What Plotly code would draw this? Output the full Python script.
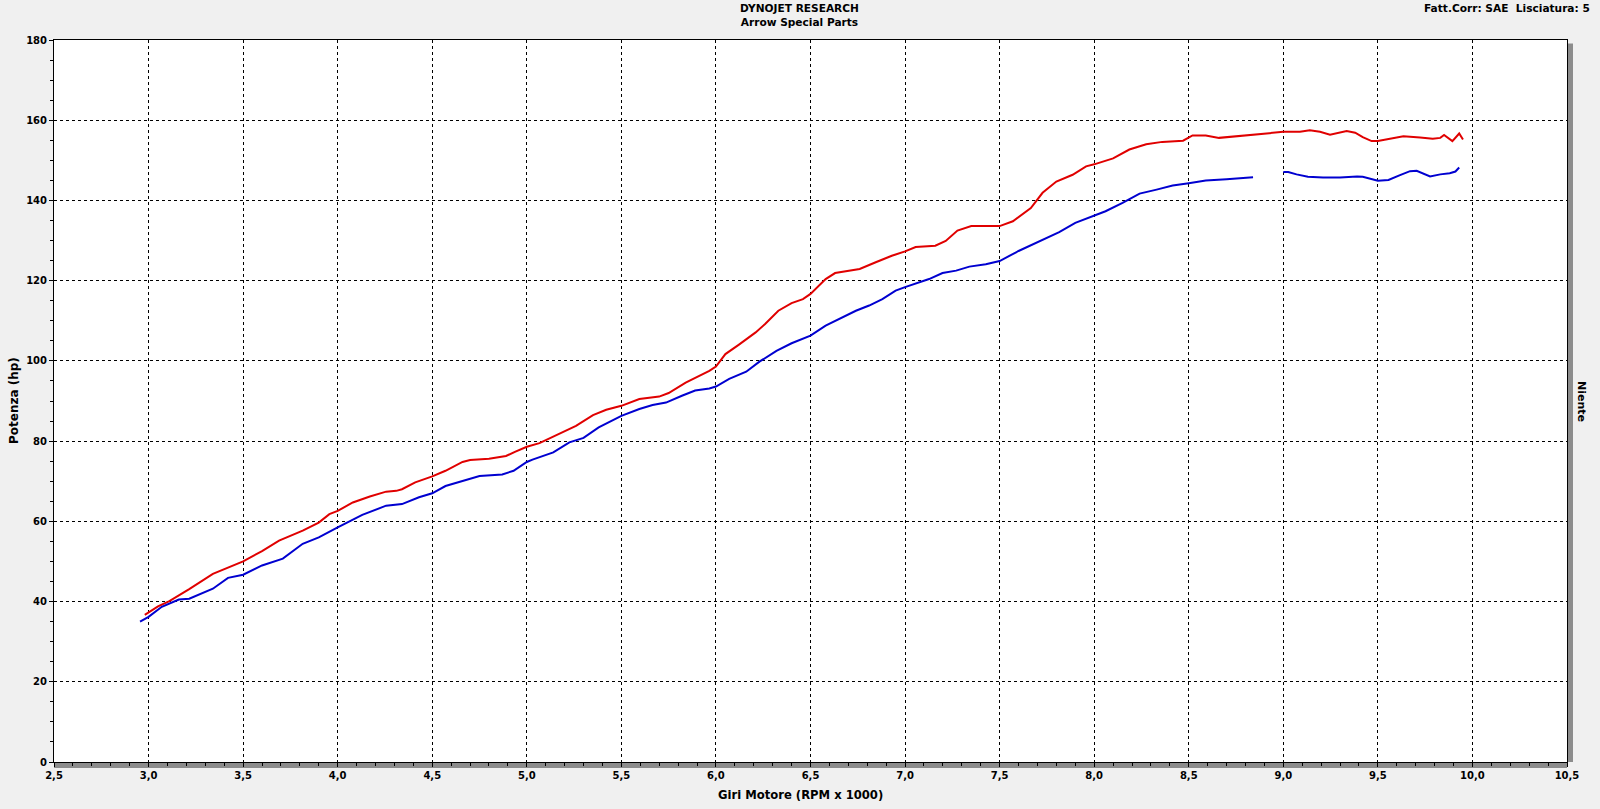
import plotly.graph_objects as go

# ---- data ----
rpm_red = [2.98, 3.05, 3.11, 3.215, 3.34, 3.41, 3.5, 3.60, 3.69, 3.815, 3.90, 3.956, 4.0, 4.08, 4.17,
           4.256, 4.31, 4.34, 4.41, 4.5, 4.57, 4.66, 4.70, 4.80, 4.89, 4.94, 5.0, 5.067, 5.17, 5.26,
           5.35, 5.42, 5.5, 5.595, 5.70, 5.75, 5.84, 5.91, 5.965, 6.0, 6.05, 6.12, 6.21, 6.26, 6.33,
           6.40, 6.46, 6.5, 6.58, 6.63, 6.70, 6.76, 6.845, 6.93, 7.0, 7.056, 7.16, 7.215, 7.277, 7.35,
           7.43, 7.5, 7.57, 7.665, 7.727, 7.80, 7.886, 7.957, 8.0, 8.10, 8.186, 8.275, 8.36, 8.47, 8.52,
           8.59, 8.66, 8.73, 8.84, 8.92, 9.0, 9.088, 9.14, 9.194, 9.247, 9.335, 9.38, 9.42, 9.467, 9.5,
           9.564, 9.635, 9.723, 9.79, 9.83, 9.85, 9.894, 9.93, 9.95]
hp_red = [36.7, 38.8, 40.1, 43.1, 46.9, 48.2, 50.0, 52.6, 55.2, 57.7, 59.7, 61.8, 62.6, 64.7, 66.2,
          67.4, 67.6, 68.0, 69.7, 71.2, 72.6, 74.8, 75.3, 75.6, 76.3, 77.4, 78.6, 79.5, 81.7, 83.8,
          86.5, 87.8, 88.8, 90.5, 91.1, 92.0, 94.6, 96.3, 97.5, 98.6, 101.7, 104.0, 107.1, 109.2, 112.5,
          114.4, 115.4, 116.7, 120.4, 121.9, 122.5, 122.9, 124.6, 126.2, 127.3, 128.4, 128.7, 129.9, 132.5, 133.6,
          133.6, 133.6, 134.8, 138.1, 141.9, 144.7, 146.4, 148.5, 149.0, 150.5, 152.7, 154.0, 154.6, 154.9, 156.2,
          156.2, 155.6, 155.9, 156.3, 156.7, 157.1, 157.1, 157.5, 157.1, 156.4, 157.3, 156.9, 155.8, 154.8, 154.8,
          155.4, 156.0, 155.7, 155.4, 155.6, 156.3, 154.8, 156.7, 155.2]

rpm_blue = [2.955, 3.0, 3.07, 3.16, 3.215, 3.34, 3.42, 3.5, 3.60, 3.71, 3.815, 3.90, 4.0, 4.13, 4.256,
            4.34, 4.43, 4.5, 4.57, 4.66, 4.75, 4.87, 4.93, 5.0, 5.03, 5.14, 5.225, 5.30, 5.38, 5.5,
            5.595, 5.665, 5.736, 5.82, 5.89, 5.965, 6.0, 6.07, 6.16, 6.23, 6.32, 6.40, 6.5, 6.58, 6.67,
            6.74, 6.81, 6.88, 6.95, 7.0, 7.127, 7.198, 7.27, 7.34, 7.427, 7.5, 7.60, 7.71, 7.815, 7.90,
            8.0, 8.06, 8.15, 8.24, 8.33, 8.415, 8.5, 8.59, 8.70, 8.77, 8.84, None, 9.0, 9.026, 9.07,
            9.13, 9.21, 9.30, 9.39, 9.42, 9.5, 9.556, 9.617, 9.67, 9.705, 9.776, 9.83, 9.88, 9.91, 9.93]
hp_blue = [35.0, 36.2, 38.7, 40.5, 40.7, 43.2, 45.9, 46.7, 49.0, 50.7, 54.4, 56.0, 58.5, 61.6, 63.9,
           64.3, 66.0, 67.0, 68.8, 70.1, 71.3, 71.7, 72.6, 74.8, 75.4, 77.2, 79.7, 80.8, 83.4, 86.3,
           88.0, 89.0, 89.6, 91.3, 92.6, 93.1, 93.6, 95.5, 97.3, 99.8, 102.5, 104.4, 106.3, 108.8, 110.9,
           112.5, 113.8, 115.4, 117.5, 118.4, 120.4, 121.9, 122.5, 123.5, 124.1, 124.9, 127.4, 129.9, 132.1, 134.4,
           136.2, 137.3, 139.4, 141.7, 142.7, 143.7, 144.3, 145.0, 145.3, 145.6, 145.8, None, 147.1, 147.1, 146.5,
           145.9, 145.7, 145.7, 146.0, 145.9, 144.9, 145.1, 146.3, 147.3, 147.4, 146.0, 146.5, 146.8, 147.2, 148.2]

x_ticks = [2.5, 3.0, 3.5, 4.0, 4.5, 5.0, 5.5, 6.0, 6.5, 7.0, 7.5, 8.0, 8.5, 9.0, 9.5, 10.0, 10.5]
y_ticks = [0, 20, 40, 60, 80, 100, 120, 140, 160, 180]

FONT = "DejaVu Sans"
W, H = 1600, 809
ML, MR, MT, MB = 54, 33, 40, 47

fig = go.Figure()
fig.add_trace(go.Scatter(x=rpm_red, y=hp_red, mode="lines",
                         line=dict(color="#e00000", width=2), showlegend=False))
fig.add_trace(go.Scatter(x=rpm_blue, y=hp_blue, mode="lines", connectgaps=False,
                         line=dict(color="#0000d0", width=2), showlegend=False))

axis_common = dict(
    showline=True, linecolor="black", linewidth=1, mirror=True,
    showgrid=True, gridcolor="black", gridwidth=1, griddash="3px,3px",
    zeroline=False, ticks="outside", ticklen=4, tickcolor="black",
    tickfont=dict(family=FONT, size=10, color="black", weight="bold"),
)

fig.update_xaxes(range=[2.5, 10.5], tickvals=x_ticks, tickformat=".1f",
                 minor=dict(dtick=0.1, ticks="outside", ticklen=3, tickcolor="black", showgrid=False),
                 **axis_common)
fig.update_yaxes(range=[0, 180], tickvals=y_ticks,
                 minor=dict(dtick=5, ticks="outside", ticklen=3, tickcolor="black", showgrid=False),
                 **axis_common)

W_plot = W - ML - MR
H_plot = H - MT - MB


def px_x(px):
    return (px - ML) / W_plot


def px_y(py):
    return (H - MB - py) / H_plot


fig.update_layout(
    width=W, height=H,
    margin=dict(l=ML, r=MR, t=MT, b=MB),
    paper_bgcolor="#f0f0f0", plot_bgcolor="white",
    separators=",.",
    font=dict(family=FONT, color="black"),
    shapes=[
        dict(type="rect", xref="paper", yref="paper", x0=0, x1=1,
             ysizemode="pixel", yanchor=0, y0=-6, y1=-1,
             fillcolor="#8c8c8c", line=dict(width=0), layer="below"),
        dict(type="rect", yref="paper", xref="paper", y0=0, y1=0.995,
             xsizemode="pixel", xanchor=1, x0=1, x1=6,
             fillcolor="#8c8c8c", line=dict(width=0), layer="below"),
    ],
    annotations=[
        dict(text="<b>DYNOJET RESEARCH</b><br><b>Arrow Special Parts</b>",
             x=px_x(799), y=px_y(15), xanchor="center", yanchor="middle",
             xref="paper", yref="paper", showarrow=False,
             font=dict(family=FONT, size=10.6), align="center"),
        dict(text="<b>Fatt.Corr: SAE\u00a0\u00a0Lisciatura: 5</b>", xref="paper", yref="paper",
             x=px_x(1592), y=px_y(8), xanchor="right", yanchor="middle",
             showarrow=False, font=dict(family=FONT, size=10.6)),
        dict(text="<b>Giri Motore (RPM x 1000)</b>", xref="paper", yref="paper",
             x=px_x(800), y=px_y(795), xanchor="center", yanchor="middle",
             showarrow=False, font=dict(family=FONT, size=11.6)),
        dict(text="<b>Potenza (hp)</b>", xref="paper", yref="paper", textangle=-90,
             x=px_x(14), y=px_y(401), xanchor="center", yanchor="middle",
             showarrow=False, font=dict(family=FONT, size=12)),
        dict(text="<b>Niente</b>", xref="paper", yref="paper", textangle=90,
             x=px_x(1582), y=px_y(401), xanchor="center", yanchor="middle",
             showarrow=False, font=dict(family=FONT, size=11)),
    ],
)

fig.write_html("out.html", config={"displayModeBar": False},
               post_script="document.body.style.margin='0px';")
